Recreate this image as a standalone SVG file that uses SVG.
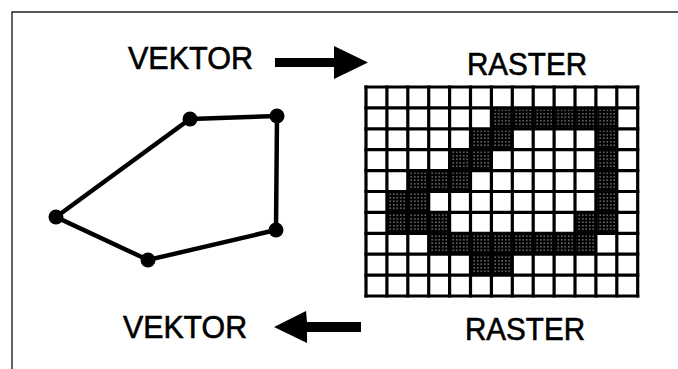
<svg xmlns="http://www.w3.org/2000/svg" width="678" height="369" viewBox="0 0 678 369">
<style>
.lbl{font-family:"Liberation Sans",Arial,sans-serif;font-size:31px;fill:#000;stroke:#000;stroke-width:0.6}
.frame{stroke:#222;stroke-width:1.4;fill:none}
.edge{stroke:#000;stroke-width:4.5;stroke-linecap:round;fill:none}
.pt{fill:#000}
.gl{stroke:#000;stroke-width:3.2;stroke-linecap:square}
.arrow{fill:#000}
</style>
<defs>
<pattern id="stip" width="3.5" height="3.5" patternUnits="userSpaceOnUse">
<rect width="3.5" height="3.5" fill="#000"/>
<circle cx="1.75" cy="1.75" r="0.6" fill="#fff"/>
</pattern>
</defs>
<rect width="678" height="369" fill="#fff"/>
<g id="frame">
<path class="frame" d="M12,369 V12 H678"/>
</g>
<g id="label-vektor-top"><text class="lbl" x="128" y="69" textLength="125" lengthAdjust="spacingAndGlyphs">VEKTOR</text></g>
<g id="label-raster-top"><text class="lbl" x="467" y="75" textLength="120" lengthAdjust="spacingAndGlyphs">RASTER</text></g>
<g id="label-vektor-bottom"><text class="lbl" x="123" y="338" textLength="124" lengthAdjust="spacingAndGlyphs">VEKTOR</text></g>
<g id="label-raster-bottom"><text class="lbl" x="465" y="340" textLength="120" lengthAdjust="spacingAndGlyphs">RASTER</text></g>
<g id="polygon">
<polygon class="edge" points="190,119 277,116 276,230 148,260 56,217"/>
<circle class="pt" cx="190" cy="119" r="7.5"/>
<circle class="pt" cx="277" cy="116" r="7.5"/>
<circle class="pt" cx="276" cy="230" r="7.5"/>
<circle class="pt" cx="148" cy="260" r="7.5"/>
<circle class="pt" cx="56" cy="217" r="7.5"/>
</g>
<g id="raster">
<g fill="url(#stip)">
<rect x="491.4" y="107.9" width="125.4" height="20.9"/>
<rect x="470.5" y="128.8" width="41.8" height="20.9"/>
<rect x="595.9" y="128.8" width="20.9" height="104.5"/>
<rect x="449.6" y="149.7" width="41.8" height="20.9"/>
<rect x="407.8" y="170.6" width="62.7" height="20.9"/>
<rect x="386.9" y="191.5" width="41.8" height="20.9"/>
<rect x="386.9" y="212.4" width="62.7" height="20.9"/>
<rect x="575" y="212.4" width="41.8" height="20.9"/>
<rect x="428.7" y="233.3" width="167.2" height="20.9"/>
<rect x="470.5" y="254.2" width="41.8" height="20.9"/>
</g>
<g class="gl">
<path d="M366,87 V296 M386.9,87 V296 M407.8,87 V296 M428.7,87 V296 M449.6,87 V296 M470.5,87 V296 M491.4,87 V296 M512.3,87 V296 M533.2,87 V296 M554.1,87 V296 M575,87 V296 M595.9,87 V296 M616.8,87 V296 M637.7,87 V296"/>
<path d="M366,87 H637.7 M366,107.9 H637.7 M366,128.8 H637.7 M366,149.7 H637.7 M366,170.6 H637.7 M366,191.5 H637.7 M366,212.4 H637.7 M366,233.3 H637.7 M366,254.2 H637.7 M366,275.1 H637.7 M366,296 H637.7"/>
</g>
</g>
<g id="connectors">
<path class="arrow" d="M275,58 H334 V46 L368,62.5 L334,79 V67 H275 Z"/>
<path class="arrow" d="M274,327 L306,311 L307,322 H361 V332 H307 L307,343 Z"/>
</g>
</svg>
